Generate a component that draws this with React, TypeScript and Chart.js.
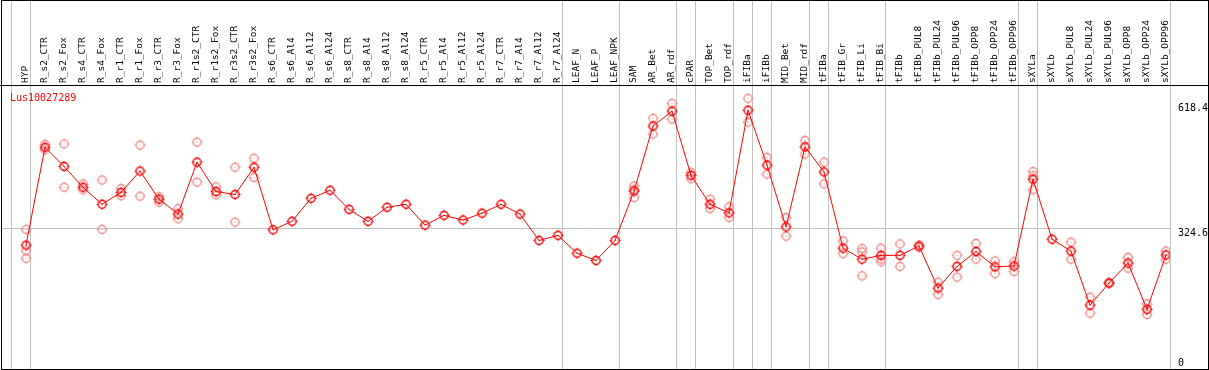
import React, { useEffect, useRef } from "react";
import { Chart, registerables } from "chart.js";

Chart.register(...registerables);

const categories = [
  "HYP", "R_s2_CTR", "R_s2_Fox", "R_s4_CTR", "R_s4_Fox", "R_r1_CTR", "R_r1_Fox", "R_r3_CTR", "R_r3_Fox",
  "R_r1s2_CTR", "R_r1s2_Fox", "R_r3s2_CTR", "R_r3s2_Fox", "R_s6_CTR", "R_s6_Al4", "R_s6_Al12", "R_s6_Al24",
  "R_s8_CTR", "R_s8_Al4", "R_s8_Al12", "R_s8_Al24", "R_r5_CTR", "R_r5_Al4", "R_r5_Al12", "R_r5_Al24",
  "R_r7_CTR", "R_r7_Al4", "R_r7_Al12", "R_r7_Al24", "LEAF_N", "LEAF_P", "LEAF_NPK", "SAM", "AR_Bet", "AR_rdf",
  "cPAR", "TOP_Bet", "TOP_rdf", "iFIBa", "iFIBb", "MID_Bet", "MID_rdf", "tFIBa", "tFIB_Gr", "tFIB_Li", "tFIB_Bi",
  "tFIBb", "tFIBb_PUL8", "tFIBb_PUL24", "tFIBb_PUL96", "tFIBb_OPP8", "tFIBb_OPP24", "tFIBb_OPP96",
  "sXYLa", "sXYLb", "sXYLb_PUL8", "sXYLb_PUL24", "sXYLb_PUL96", "sXYLb_OPP8", "sXYLb_OPP24", "sXYLb_OPP96",
];

const means = [
  284, 514, 469, 420, 380, 408, 458, 392, 357, 479, 410, 403, 467, 320, 340, 394, 413, 368, 340, 373, 380,
  331, 354, 343, 359, 380, 357, 295, 307, 265, 248, 295, 411, 564, 599, 448, 380, 360, 601, 472, 327, 515,
  456, 277, 251, 260, 260, 282, 183, 234, 269, 233, 235, 439, 298, 270, 143, 195, 242, 133, 261,
];

const rep1: (number | null)[] = [
  321, 521, 522, 428, 437, 417, 519, 398, 370, 526, 421, 467, 488, null, null, null, null, null, null, null, null,
  null, null, null, null, null, null, null, null, null, null, null, 423, 582, 617, 455, 392, 374, 629, 490, 349, 530,
  479, 294, 276, 277, 287, 284, 197, 260, 288, 247, 245, 457, null, 291, 162, 196, 255, 146, 270,
];

const rep2: (number | null)[] = [
  271, 508, 420, 414, 321, 400, 399, 385, 346, 432, 402, 338, 443, null, null, null, null, null, null, null, null,
  null, null, null, null, null, null, null, null, null, null, null, 396, 545, 580, 440, 370, 349, 573, 451, 305, 498,
  428, 264, 268, 251, 234, 278, 168, 209, 251, 217, 222, 447, null, 251, 124, 194, 230, 121, 251,
];

const rep3: (number | null)[] = [
  253, null, null, null, null, null, null, null, null, null, null, null, null, null, null, null, null, null, null, null, null,
  null, null, null, null, null, null, null, null, null, null, null, 415, null, null, null, null, null, null, null, null, null,
  null, null, 212, 245, null, null, null, null, null, null, null, 414, null, null, null, null, null, null, null,
];

const yTickValues = [0, 324.6, 618.4];
const yTickLabels = ["0", "324.6", "618.4"];
const groupEnds = [-1, 0, 28, 31, 34, 35, 37, 38, 39, 41, 42, 45, 52, 53, 60];
const geneName = "Lus10027289";

const FONT = '"DejaVu Sans Mono", monospace';

function makeMarker(color: string): HTMLCanvasElement {
  const c = document.createElement("canvas");
  c.width = 13;
  c.height = 13;
  const g = c.getContext("2d")!;
  g.strokeStyle = color;
  g.lineWidth = 1.5;
  g.beginPath();
  g.arc(6.5, 6.5, 4, 0, Math.PI * 2);
  g.stroke();
  g.lineWidth = 1;
  g.beginPath();
  g.moveTo(6.5, 1); g.lineTo(6.5, 2);
  g.moveTo(6.5, 11); g.lineTo(6.5, 12);
  g.moveTo(1, 6.5); g.lineTo(2, 6.5);
  g.moveTo(11, 6.5); g.lineTo(12, 6.5);
  g.stroke();
  g.fillStyle = color;
  g.fillRect(6, 6, 1, 1);
  return c;
}

const framePlugin = {
  id: "frame",
  beforeDraw(chart: any) {
    const ctx = chart.ctx as CanvasRenderingContext2D;
    const { width, height } = chart;
    const area = chart.chartArea;
    const xs = chart.scales.x;
    const ys = chart.scales.y;
    ctx.save();
    ctx.fillStyle = "#ffffff";
    ctx.fillRect(0, 0, width, height);
    ctx.strokeStyle = "#c0c0c0";
    ctx.lineWidth = 1;
    for (const g of groupEnds) {
      const px = Math.round(xs.getPixelForValue(g + 0.21)) + 0.5;
      ctx.beginPath();
      ctx.moveTo(px, 0);
      ctx.lineTo(px, height);
      ctx.stroke();
    }
    const gy = Math.round(ys.getPixelForValue(324.6)) + 0.5;
    ctx.beginPath();
    ctx.moveTo(area.left, gy);
    ctx.lineTo(area.right, gy);
    ctx.stroke();
    ctx.restore();
  },
  afterDraw(chart: any) {
    const ctx = chart.ctx as CanvasRenderingContext2D;
    const { width, height } = chart;
    const area = chart.chartArea;
    const ys = chart.scales.y;
    ctx.save();
    ctx.strokeStyle = "#000000";
    ctx.lineWidth = 1;
    ctx.strokeRect(1.5, 0.5, width - 2, height - 1);
    ctx.beginPath();
    ctx.moveTo(0, area.top + 0.5);
    ctx.lineTo(width, area.top + 0.5);
    ctx.stroke();
    ctx.font = `10px ${FONT}`;
    ctx.textBaseline = "top";
    ctx.textAlign = "left";
    ctx.fillStyle = "#ff0000";
    ctx.fillText(geneName, 10, area.top + 8);
    ctx.fillStyle = "#000000";
    yTickValues.forEach((v, i) => {
      let y = ys.getPixelForValue(v) + 1;
      if (y > height - 12) y = height - 12;
      ctx.fillText(yTickLabels[i], area.right + 8, y);
    });
    ctx.restore();
  },
};

export default function App() {
  const ref = useRef<HTMLCanvasElement>(null);
  useEffect(() => {
    const canvas = ref.current!;
    const redMarker = makeMarker("#ff0000");
    const pinkMarker = makeMarker("#ee9090");
    const repPoints: { x: number; y: number }[] = [];
    [rep1, rep2, rep3].forEach((arr) =>
      arr.forEach((v, i) => {
        if (v !== null) repPoints.push({ x: i, y: v });
      })
    );
    const chart = new Chart(canvas, {
      type: "line",
      data: {
        datasets: [
          {
            data: means.map((v, i) => ({ x: i, y: v })),
            borderColor: "#ff0000",
            borderWidth: 1,
            pointStyle: redMarker as any,
            pointRadius: 5,
            tension: 0,
          },
          {
            data: repPoints,
            showLine: false,
            pointStyle: pinkMarker as any,
            pointRadius: 5,
          },
        ],
      },
      options: {
        animation: false,
        responsive: false,
        maintainAspectRatio: false,
        layout: { autoPadding: false, padding: { left: 1, right: 0, top: 0, bottom: 2 } },
        plugins: { legend: { display: false }, tooltip: { enabled: false } },
        events: [],
        scales: {
          x: {
            type: "linear",
            position: "top",
            bounds: "data",
            min: -1.316,
            max: 60.21,
            grid: { display: false, drawTicks: false },
            border: { display: false },
            ticks: {
              autoSkip: false,
              minRotation: 90,
              maxRotation: 90,
              padding: 2,
              labelOffset: 11,
              color: "#000000",
              font: { family: FONT, size: 9.5 },
              callback: (v: any) => categories[v as number] ?? "",
            },
            afterBuildTicks: (axis: any) => {
              axis.ticks = categories.map((_, i) => ({ value: i }));
            },
            afterFit: (axis: any) => {
              axis.height = 85;
              axis.paddingLeft = 0;
              axis.paddingRight = 0;
            },
          },
          y: {
            type: "linear",
            position: "right",
            min: -4.7,
            max: 660.4,
            grid: { display: false },
            border: { display: false },
            ticks: { display: false },
            afterFit: (axis: any) => {
              axis.width = 39;
              axis.paddingTop = 0;
              axis.paddingBottom = 0;
            },
          },
        },
      },
      plugins: [framePlugin],
    });
    return () => chart.destroy();
  }, []);
  return (
    <div style={{ position: "fixed", left: 0, top: 0, width: 1209, height: 370, background: "#fff" }}>
      <canvas ref={ref} width={1209} height={370} style={{ display: "block" }} />
    </div>
  );
}
